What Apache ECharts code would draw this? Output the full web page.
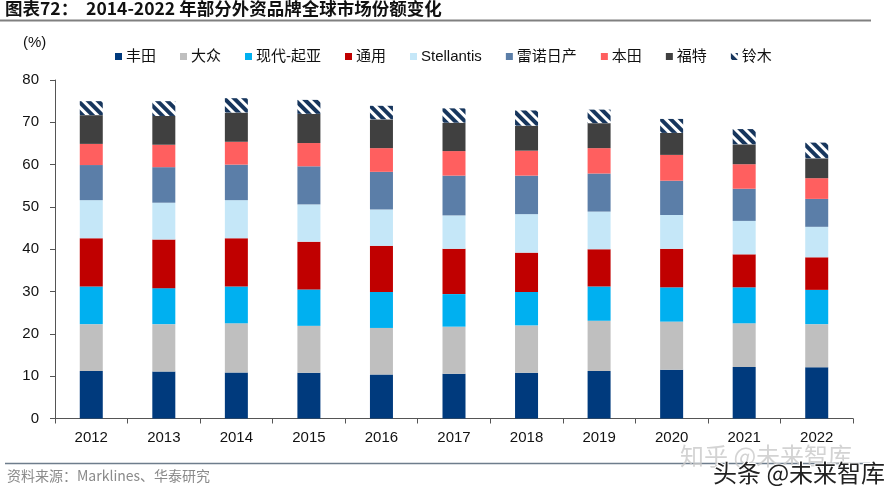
<!DOCTYPE html>
<html>
<head>
<meta charset="utf-8">
<script src="https://cdn.jsdelivr.net/npm/echarts@6/dist/echarts.min.js"></script>
<style>
html,body{margin:0;padding:0;background:#fff;}
#main{width:893px;height:500px;}
</style>
</head>
<body>
<div id="main"></div>
<script>
var years = ['2012','2013','2014','2015','2016','2017','2018','2019','2020','2021','2022'];
var seriesNames = ['丰田','大众','现代-起亚','通用','Stellantis','雷诺日产','本田','福特','铃木'];
var toyota     = [11.2, 11.1, 10.9, 10.8, 10.4, 10.6, 10.8, 11.2, 11.5, 12.2, 12.1];
var vw         = [11.1, 11.2, 11.6, 11.1, 11.0, 11.1, 11.2, 11.9, 11.4, 10.3, 10.2];
var hyundai    = [8.9, 8.5, 8.7, 8.6, 8.5, 7.7, 7.9, 8.1, 8.1, 8.5, 8.1];
var gm         = [11.4, 11.5, 11.4, 11.3, 10.9, 10.7, 9.3, 8.8, 9.1, 7.8, 7.7];
var stellantis = [9.0, 8.7, 9.0, 8.8, 8.6, 7.9, 9.1, 8.9, 8.0, 7.9, 7.2];
var renault    = [8.3, 8.4, 8.4, 9.0, 8.9, 9.4, 9.1, 9.0, 8.1, 7.6, 6.6];
var honda      = [5.0, 5.3, 5.4, 5.5, 5.6, 5.8, 5.9, 6.0, 6.1, 5.8, 4.9];
var ford       = [6.8, 6.8, 6.9, 6.9, 6.8, 6.7, 5.9, 5.9, 5.2, 4.7, 4.7];
var suzuki     = [3.3, 3.5, 3.4, 3.3, 3.2, 3.4, 3.6, 3.2, 3.3, 3.6, 3.7];
var yTicks = [0, 10, 20, 30, 40, 50, 60, 70, 80];

var values = [toyota, vw, hyundai, gm, stellantis, renault, honda, ford, suzuki];
var colors = ['#003a7d','#bfbfbf','#00b0f0','#c00000','#c5e7f8','#5b7ea8','#ff5f5f','#404040','#ffffff'];

var FONT = "'Liberation Sans', Arial, 'Noto Sans CJK SC', sans-serif";

var series = seriesNames.map(function(n, i){
  var s = {
    name: n,
    type: 'bar',
    stack: 'total',
    barWidth: 23,
    data: values[i],
    itemStyle: { color: colors[i] },
    emphasis: { disabled: true }
  };
  if (n === '铃木') {
    s.itemStyle.decal = {
      symbol: 'rect',
      symbolSize: 1,
      dashArrayX: [1, 0],
      dashArrayY: [3.5, 3],
      rotation: Math.PI / 4,
      color: '#17365d'
    };
  }
  return s;
});

var chart = echarts.init(document.getElementById('main'), null, {renderer: 'canvas'});
chart.setOption({
  animation: false,
  backgroundColor: '#fff',
  textStyle: { fontFamily: FONT },
  grid: { left: 55, right: 40, top: 80, bottom: 81.5, containLabel: false },
  legend: {
    left: 110,
    top: 44,
    itemWidth: 7,
    itemHeight: 7,
    itemGap: 24,
    icon: 'rect',
    textStyle: { fontSize: 15, color: '#111', fontFamily: FONT, padding: [0,0,0,-1] },
    data: seriesNames
  },
  xAxis: {
    type: 'category',
    data: years,
    axisLine: { lineStyle: { color: '#555', width: 1 } },
    axisTick: { show: true, length: 5, lineStyle: { color: '#555' } },
    axisLabel: { fontSize: 15, color: '#111', margin: 12, fontFamily: FONT }
  },
  yAxis: {
    type: 'value',
    min: yTicks[0],
    max: yTicks[yTicks.length - 1],
    interval: 10,
    axisLine: { show: true, lineStyle: { color: '#555', width: 1 } },
    axisTick: { show: true, length: 5, lineStyle: { color: '#555' } },
    splitLine: { show: false },
    axisLabel: { fontSize: 15, color: '#111', margin: 16, fontFamily: FONT }
  },
  graphic: [
    { type: 'text', left: 5, top: 0, style: { text: '图表72：  2014-2022 年部分外资品牌全球市场份额变化', font: "bold 17.5px 'Noto Sans CJK SC', 'Liberation Sans', sans-serif", fill: '#111' } },
    { type: 'line', shape: { x1: 0, y1: 20.5, x2: 871, y2: 20.5 }, style: { stroke: '#808080', lineWidth: 2 } },
    { type: 'text', left: 23, top: 35, style: { text: '(%)', font: "15px 'Liberation Sans', Arial, sans-serif", fill: '#111' } },
    { type: 'line', shape: { x1: 5, y1: 463.5, x2: 870, y2: 463.5 }, style: { stroke: '#6e7d8c', lineWidth: 1.5 } },
    { type: 'text', left: 7, top: 469, style: { text: '资料来源：Marklines、华泰研究', font: "14px 'Noto Sans CJK SC', 'Liberation Sans', sans-serif", fill: '#8a8a8a' } },
    { type: 'text', left: 680, top: 444, style: { text: '知乎 @未来智库', font: "24px 'Noto Sans CJK SC', sans-serif", fill: 'rgba(200,200,200,0.8)' } },
    { type: 'text', left: 712, top: 460, style: { text: '头条 @未来智库', font: "24px 'Noto Sans CJK SC', sans-serif", fill: '#222', stroke: '#fff', lineWidth: 2 } }
  ],
  series: series
});
</script>
</body>
</html>
